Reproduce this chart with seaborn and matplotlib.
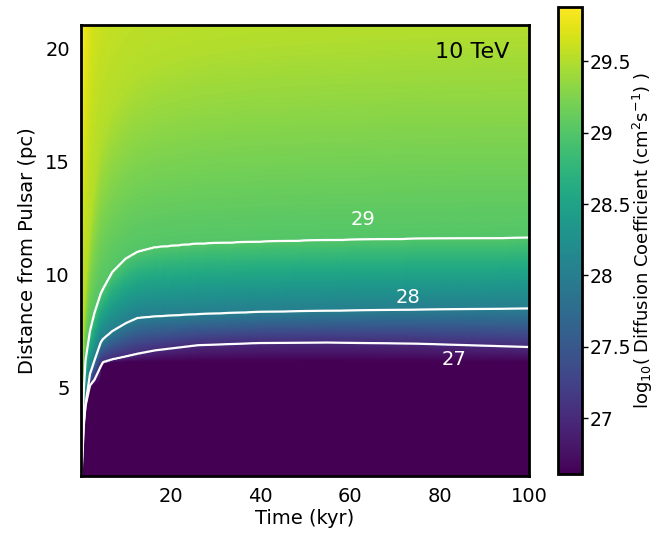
import numpy as np
import matplotlib
matplotlib.use("Agg")
import matplotlib.pyplot as plt
import seaborn as sns

# Time knots (kyr) at which the radial profile of log10 D is tabulated
t_knots = [0.0, 0.6, 1.0, 2.0, 3.0, 4.4, 4.9, 7.0, 10.0, 12.6, 16.5, 26.0, 40.0, 55.0, 75.0, 100.0]

# Radius (pc) of the top edge of the suppressed (minimum-D) core
r_floor = [0.50, 3.00, 4.00, 4.90, 5.15, 5.20, 6.05, 6.12, 6.14, 6.15, 6.15, 6.15, 6.15, 6.15, 6.15, 6.12]
# Radii (pc) where log10 D reaches 27, 28, 29 and 29.5
r_27 = [0.60, 3.30, 4.20, 5.10, 5.35, 5.95, 6.12, 6.25, 6.38, 6.50, 6.65, 6.88, 6.98, 7.00, 6.95, 6.80]
r_28 = [0.70, 3.40, 4.25, 5.60, 6.20, 7.00, 7.15, 7.50, 7.85, 8.08, 8.15, 8.25, 8.35, 8.40, 8.45, 8.50]
r_29 = [0.80, 4.80, 6.20, 7.50, 8.30, 9.15, 9.35, 10.10, 10.70, 11.00, 11.20, 11.36, 11.45, 11.52, 11.58, 11.62]
r_295 = [0.90, 6.50, 8.50, 11.50, 13.50, 15.50, 16.00, 17.20, 18.20, 18.80, 19.30, 19.90, 20.30, 20.50, 20.70, 20.80]
# Outer value of log10 D at r = 21.5 pc
top_val = [29.88, 29.86, 29.82, 29.72, 29.66, 29.62, 29.61, 29.59, 29.57, 29.56, 29.55, 29.54, 29.53, 29.53, 29.52, 29.52]

log_d_min = 26.61
log_d_max = 29.88
r_outer = 21.5

contour_levels = [27, 28, 29]
# label anchor (time, distance) for each contour level
label_t = [83.2, 72.9, 62.9]
label_r = [6.23, 9.0, 12.42]

energy_text = "10 TeV"

# ---------------------------------------------------------------
sns.set_theme(style="ticks")
plt.rcParams["font.family"] = ["DejaVu Sans"]
plt.rcParams["text.color"] = "black"
plt.rcParams["axes.labelcolor"] = "black"
plt.rcParams["xtick.color"] = "black"
plt.rcParams["ytick.color"] = "black"

t_grid = np.unique(np.concatenate([np.linspace(0.0, 5.0, 251), np.linspace(5.0, 100.0, 476)]))
r_grid = np.linspace(1.0, 21.1, 503)

knots = np.array([r_floor, r_27, r_28, r_29, r_295])
field = np.empty((r_grid.size, t_grid.size))
for j, t in enumerate(t_grid):
    radii = [np.interp(t, t_knots, row) for row in knots]
    top = np.interp(t, t_knots, top_val)
    xp = [0.0] + radii + [r_outer]
    fp = [log_d_min, log_d_min, 27.0, 28.0, 29.0, 29.5, top]
    field[:, j] = np.interp(r_grid, xp, fp)

cmap = sns.color_palette("viridis", as_cmap=True)

fig = plt.figure(figsize=(6.55, 5.34), dpi=100)
ax = fig.add_axes([0.1237, 0.1086, 0.684, 0.8446])
cax = fig.add_axes([0.8515, 0.1124, 0.0371, 0.8745])

mesh = ax.pcolormesh(t_grid, r_grid, field, cmap=cmap, vmin=log_d_min, vmax=log_d_max,
                     shading="gouraud", rasterized=True)
ax.contour(t_grid, r_grid, field, levels=contour_levels, colors="white", linewidths=1.6)

for lev, tx, ry in zip(contour_levels, label_t, label_r):
    ax.text(tx, ry, f"{lev}", color="white", fontsize=14, ha="center", va="center")

ax.text(87.2, 19.85, energy_text, color="black", fontsize=16, ha="center", va="center")

ax.set_xlim(0.0, 100.0)
ax.set_ylim(1.1, 21.03)
ax.set_xticks([20, 40, 60, 80, 100])
ax.set_yticks([5, 10, 15, 20])
ax.set_xlabel("Time (kyr)", fontsize=14, labelpad=2)
ax.set_ylabel("Distance from Pulsar (pc)", fontsize=14, labelpad=6)
ax.tick_params(direction="in", length=7, width=1.5, labelsize=14, color="black",
               labelcolor="black", pad=8)
for sp in ax.spines.values():
    sp.set_linewidth(2.0)
    sp.set_color("black")
    sp.set_visible(True)

cb = fig.colorbar(mesh, cax=cax)
cb.set_ticks([27, 27.5, 28, 28.5, 29, 29.5])
cb.set_ticklabels(["27", "27.5", "28", "28.5", "29", "29.5"])
cb.ax.tick_params(direction="out", length=4, width=1, labelsize=13.5, pad=1.5,
                  color="black", labelcolor="black")
cb.outline.set_linewidth(2.0)
cb.outline.set_edgecolor("black")
cb.set_label(r"log$_{10}$( Diffusion Coefficient (cm$^2$s$^{-1}$) )", fontsize=13,
             color="black")
cb.ax.yaxis.set_label_coords(3.03, 0.5)

fig.savefig("out.png", dpi=100)
